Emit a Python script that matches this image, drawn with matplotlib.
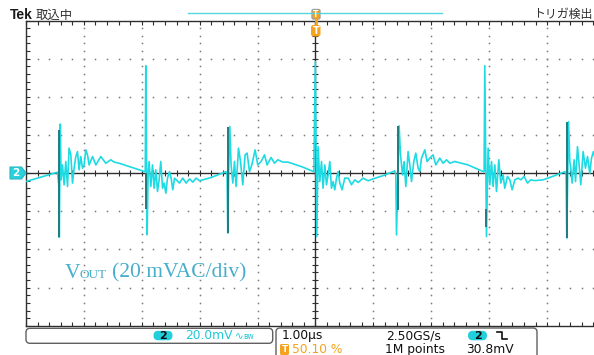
# coding: utf-8

import numpy as np
import matplotlib
matplotlib.use('Agg')
import matplotlib.pyplot as plt
from matplotlib.patches import FancyBboxPatch, Polygon
from matplotlib.lines import Line2D

# channel 2 trace: time from trigger (us), ripple (mV)
trace_t = [
    -5.00, -4.456, -4.434, -4.425, -4.408, -4.394, -4.370, -4.342, -4.313, -4.283,
    -4.256, -4.226, -4.197, -4.169, -4.140, -4.111, -4.083, -4.054, -4.024, -3.997,
    -3.967, -3.938, -3.910, -3.851, -3.794, -3.708, -3.622, -3.535, -3.478, -3.392,
    -2.988, -2.940, -2.931, -2.908, -2.891, -2.874, -2.845, -2.815, -2.788, -2.758,
    -2.729, -2.701, -2.672, -2.642, -2.615, -2.585, -2.556, -2.522, -2.494, -2.465,
    -2.435, -2.390, -2.349, -2.292, -2.235, -2.176, -2.119, -2.062, -2.003, -1.803,
    -1.544, -1.527, -1.515, -1.497, -1.480, -1.458, -1.428, -1.399, -1.371, -1.330,
    -1.295, -1.256, -1.216, -1.181, -1.140, -1.100, -1.043, -0.997, -0.940, -0.881,
    -0.836, -0.767, -0.708, -0.651, -0.565, -0.478, -0.249, -0.029, -0.003, 0.022,
    0.045, 0.074, 0.104, 0.131, 0.161, 0.190, 0.218, 0.247, 0.276, 0.304,
    0.333, 0.363, 0.390, 0.420, 0.459, 0.506, 0.563, 0.622, 0.679, 0.736,
    0.822, 0.908, 0.995, 1.168, 1.370, 1.387, 1.399, 1.427, 1.444, 1.468,
    1.503, 1.530, 1.560, 1.599, 1.629, 1.658, 1.698, 1.732, 1.772, 1.801,
    1.831, 1.888, 1.927, 1.974, 2.031, 2.078, 2.147, 2.204, 2.263, 2.320,
    2.406, 2.636, 2.867, 2.912, 2.924, 2.953, 2.981, 3.010, 3.040, 3.067,
    3.097, 3.126, 3.166, 3.200, 3.240, 3.269, 3.316, 3.356, 3.396, 3.442,
    3.499, 3.546, 3.603, 3.661, 3.718, 3.788, 3.931, 4.133, 4.306, 4.328,
    4.340, 4.358, 4.370, 4.392, 4.410, 4.432, 4.467, 4.491, 4.525, 4.548,
    4.582, 4.622, 4.663, 4.698, 4.737, 4.767, 4.801, 4.85, 4.92, 5.00]
trace_mv = [
    -4.4, 0.5, -6.1, -33.7, 25.7, -3.5, 4.3, -6.1, 6.1, -7.0,
    13.1, 9.6, -5.2, 2.6, 8.7, 11.3, 1.7, 8.7, 2.6, 4.3,
    12.2, 9.6, 4.3, 8.7, 4.3, 8.7, 5.2, 7.0, 5.8, 5.2,
    1.2, 0.7, 56.3, -32.3, -0.9, 6.1, -7.0, 4.3, -7.9, 1.7,
    -9.6, -3.5, 6.1, -7.9, -5.2, -10.5, -2.6, 0.8, -2.6, -8.7,
    -2.6, -4.0, -5.2, -2.6, -5.2, -3.0, -4.7, -2.6, -4.0, -2.3,
    0.8, -0.9, -31.4, 4.3, 24.4, 4.3, -5.2, 6.1, -7.0, 13.1,
    6.1, -6.1, 9.6, 10.5, 0.8, 4.3, 12.2, 4.3, 6.1, 9.6,
    4.3, 8.2, 5.2, 7.0, 5.8, 5.8, 3.5, 0.8, 58.4, -33.2,
    13.9, -4.4, 6.1, -7.9, 4.3, -6.1, -0.9, 6.1, -7.9, -4.4,
    -8.7, -2.6, 0.8, -5.2, -8.7, -2.6, -2.6, -6.1, -3.5, -4.9,
    -2.6, -4.0, -3.0, -1.3, 1.2, -0.9, -32.3, 4.3, 24.8, 9.6,
    -0.9, 6.1, -7.0, 11.3, 4.3, -4.4, 6.1, 10.5, 2.6, 0.8,
    7.9, 12.2, 6.1, 7.9, 9.6, 4.3, 7.9, 5.2, 7.0, 5.2,
    6.1, 4.3, 1.2, 0.8, 56.3, -33.2, 13.1, -6.1, 6.1, -7.0,
    4.3, -9.6, 7.0, -5.2, -0.9, -7.9, -1.7, -3.5, -8.7, -3.5,
    -2.6, -3.5, -1.7, -5.2, -3.5, -3.9, -3.5, -1.3, 0.8, -0.9,
    -34.0, 4.3, 27.0, 6.1, 2.6, -5.2, 7.0, -4.4, 13.9, 6.1,
    -6.1, 11.3, 2.6, 8.7, 0.0, 7.9, 11.3, 5.0, 8.0, 6.0]

# darker (high intensity) parts of the switching spikes
spike_t = [-4.424, -2.925, -1.505, 1.430, 2.940, 4.350]
spike_lo = [-33.7, -19.0, -31.4, -19.2, -28.0, -34.0]
spike_hi = [22.7, 0.0, 24.4, 24.8, -19.0, 27.0]

# scope settings shown in the readout
time_per_div = 1.0     # us
volts_per_div = 20.0   # mV
readout_top = ['20.0mV', '1.00µs', '2.50GS/s']
readout_bottom = ['50.10 %', '1M points', '30.8mV']

CYAN = '#1edbe3'
DARK = '#2e2e2e'
ORANGE = '#f5a21c'
W, H = 594, 355


def px(fig, x, y):
    """ pixel position (from top left) -> inches for dpi_scale_trans """
    return x / 100.0, (H - y) / 100.0


def plot_chart():
    fig = plt.figure(figsize=(W / 100, H / 100), dpi=100)
    ax = fig.add_axes([26 / W, (H - 325.8) / H, 579 / W, 305.3 / H])
    ax.set_xlim(-5 * time_per_div, 5 * time_per_div)
    ax.set_ylim(-4 * volts_per_div, 4 * volts_per_div)

    # graticule
    minor_x = np.arange(-5, 5.001, 0.2) * time_per_div
    minor_y = np.arange(-4, 4.001, 0.2) * volts_per_div
    for k in [-3, -2, -1, 1, 2, 3]:
        ax.plot(minor_x, np.full_like(minor_x, k * volts_per_div), ls='none',
                marker='s', ms=1.1, mew=0, color='#7a7a7a', zorder=1)
    for k in [-4, -3, -2, -1, 1, 2, 3, 4]:
        ax.plot(np.full_like(minor_y, k * time_per_div), minor_y, ls='none',
                marker='s', ms=1.1, mew=0, color='#7a7a7a', zorder=1)
    ax.axhline(0, color=DARK, lw=1.0, zorder=2)
    ax.axvline(0, color=DARK, lw=1.0, zorder=2)
    ax.plot(minor_x, np.zeros_like(minor_x), ls='none', marker='|', ms=4.5,
            mew=0.8, color=DARK, zorder=2)
    ax.plot(np.zeros_like(minor_y), minor_y, ls='none', marker='_', ms=4.5,
            mew=0.8, color=DARK, zorder=2)
    ax.set_xticks(minor_x)
    ax.set_yticks(minor_y)
    ax.tick_params(direction='in', length=3, width=0.8, color=DARK,
                   top=True, right=True, labelbottom=False, labelleft=False)
    for s in ax.spines.values():
        s.set_color(DARK)
        s.set_linewidth(1.0)

    # waveform
    ax.plot(trace_t, trace_mv, color=CYAN, lw=1.2, zorder=3)
    ax.vlines(spike_t, spike_lo, spike_hi, color='#217c7e', lw=1.4, zorder=4)

    tr = fig.dpi_scale_trans

    # header
    fig.text(*px(fig, 10, 19.3), 'Tek', transform=tr, fontsize=10,
             fontweight='bold', family='Liberation Sans', color='#1a1a1a')
    fig.text(*px(fig, 35.5, 18.5), '取込中', transform=tr, fontsize=8.9,
             family=['Noto Sans CJK JP'], color='#303030', va='baseline')
    fig.text(*px(fig, 592, 18.0), 'トリガ検出', transform=tr, fontsize=8.6,
             family=['Noto Sans CJK JP'], color='#303030', ha='right',
             va='baseline')
    fig.add_artist(Line2D([1.88, 4.417], [(H - 13.3) / 100] * 2,
                          transform=tr, color='#55d5dd', lw=1.0))

    # trigger position markers
    fig.add_artist(FancyBboxPatch(px(fig, 312, 19), 0.08, 0.095, transform=tr,
                                  boxstyle='round,pad=0,rounding_size=0.015',
                                  fc=ORANGE, ec='#a0a0a0', lw=1.0))
    fig.text(*px(fig, 316, 14.2), 'T', transform=tr, fontsize=5.5,
             color='white', ha='center', va='center', fontweight='bold')
    fig.add_artist(Line2D([3.16, 3.16], [(H - 19) / 100, (H - 25) / 100],
                          transform=tr, color=ORANGE, lw=2.0))
    fig.add_artist(FancyBboxPatch(px(fig, 311, 36.5), 0.095, 0.115,
                                  transform=tr,
                                  boxstyle='round,pad=0,rounding_size=0.025',
                                  fc=ORANGE, ec='none'))
    fig.text(*px(fig, 315.8, 31), 'T', transform=tr, fontsize=7,
             color='white', ha='center', va='center', fontweight='bold')

    # channel 2 ground marker
    fig.add_artist(Polygon([px(fig, 10, 167), px(fig, 21.5, 167),
                            px(fig, 26, 173), px(fig, 21.5, 179),
                            px(fig, 10, 179)], closed=True, transform=tr,
                           fc='#2ad0dc', ec='#2ab8c4', lw=0.8))
    fig.text(*px(fig, 16, 173.3), '2', transform=tr, fontsize=7.5,
             color='white', ha='center', va='center', fontweight='bold')

    # label on screen
    lab = dict(transform=tr, family='Liberation Serif', color='#48aecb',
               va='baseline')
    fig.text(*px(fig, 64.5, 277.7), 'V', fontsize=15.5, **lab)
    fig.text(*px(fig, 79.5, 277.7), 'OUT', fontsize=9.5, **lab)
    fig.text(*px(fig, 112, 277.7), '(20 mVAC/div)', fontsize=15.5, **lab)

    # readout boxes
    fig.add_artist(FancyBboxPatch(px(fig, 26, 343.3), 2.467, 0.15,
                                  transform=tr,
                                  boxstyle='round,pad=0,rounding_size=0.04',
                                  fc='white', ec='#606060', lw=1.0))
    fig.add_artist(FancyBboxPatch(px(fig, 276, 368), 2.61, 0.40, transform=tr,
                                  boxstyle='round,pad=0,rounding_size=0.04',
                                  fc='white', ec='#606060', lw=1.0))
    for cx in [163, 477.5]:
        fig.add_artist(FancyBboxPatch(px(fig, cx - 9.5, 340.3), 0.19, 0.095,
                                      transform=tr,
                                      boxstyle='round,pad=0,rounding_size=0.047',
                                      fc='#22cfdc', ec='none'))
        fig.text(*px(fig, cx, 335.6), '2', transform=tr, fontsize=8,
                 fontweight='bold', color='#101010', ha='center', va='center')

    ro = dict(transform=tr, fontsize=8.8, family='DejaVu Sans',
              va='baseline')
    fig.text(*px(fig, 185, 339.3), readout_top[0], color='#1fc8d5', **ro)
    fig.text(*px(fig, 235, 339.3), '∿', transform=tr, fontsize=7.5,
             color='#1fc8d5', va='baseline')
    fig.text(*px(fig, 243, 339.3), 'ʙw', transform=tr, fontsize=5.5,
             color='#1fc8d5', va='baseline')
    fig.text(*px(fig, 281.5, 339.3), readout_top[1], color='#101010', **ro)
    fig.text(*px(fig, 386, 339.3), readout_top[2], color='#101010', **ro)
    # falling edge slope symbol
    fig.add_artist(Line2D([4.97, 5.02, 5.02, 5.065],
                          [(H - 331.5) / 100, (H - 331.5) / 100,
                           (H - 339) / 100, (H - 339) / 100],
                          transform=tr, color='#101010', lw=1.2))

    fig.add_artist(FancyBboxPatch(px(fig, 280, 355), 0.09, 0.11, transform=tr,
                                  boxstyle='round,pad=0,rounding_size=0.015',
                                  fc=ORANGE, ec='none'))
    fig.text(*px(fig, 284.5, 349.5), 'T', transform=tr, fontsize=6.5,
             color='white', ha='center', va='center', fontweight='bold')
    fig.text(*px(fig, 292.5, 353), readout_bottom[0], color=ORANGE, **ro)
    fig.text(*px(fig, 385, 353), readout_bottom[1], color='#101010', **ro)
    fig.text(*px(fig, 466.5, 353), readout_bottom[2], color='#101010', **ro)

    fig.savefig('out.png', dpi=100, facecolor='white')


if __name__ == '__main__':
    plot_chart()
